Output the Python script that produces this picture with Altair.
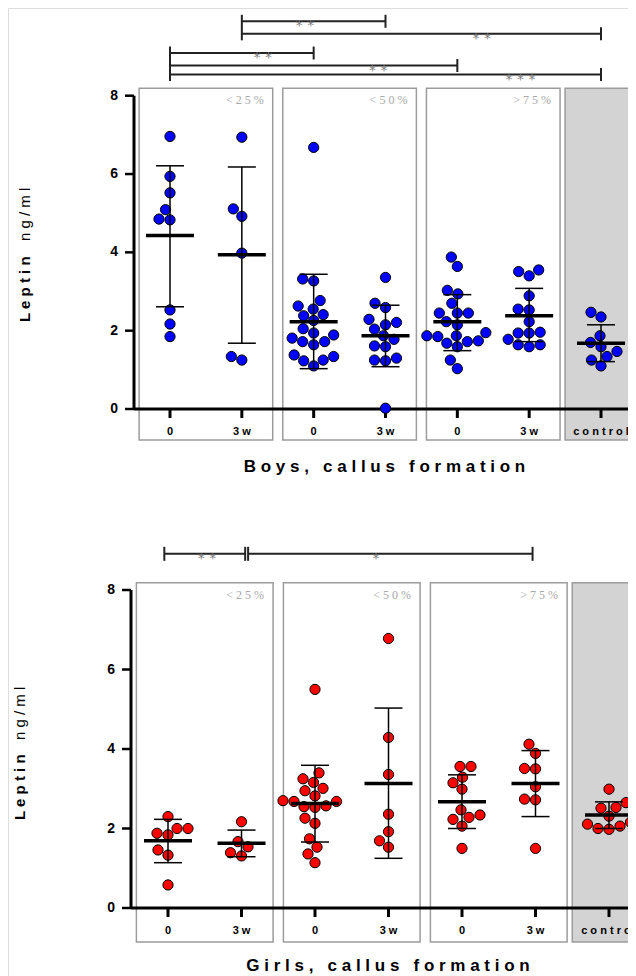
import altair as alt
import pandas as pd
import numpy as np

# ---------------- data ----------------
CATEGORY_LABELS = ["0", "3w", "0", "3w", "0", "3w", "control"]
BAND_LABELS = ["<25%", "<50%", ">75%"]
Y_TICKS = [0, 2, 4, 6, 8]

boys_lt25_0 = [6.96, 5.94, 5.52, 5.09, 4.83, 4.85, 2.53, 2.17, 1.85]
boys_lt25_3w = [6.94, 5.11, 4.92, 3.98, 1.34, 1.25]
boys_lt50_0 = [6.68, 3.32, 3.27, 2.77, 2.63, 2.55, 2.41, 2.38, 2.26, 2.05, 1.94,
               1.89, 1.81, 1.72, 1.72, 1.64, 1.38, 1.34, 1.25, 1.23, 1.10]
boys_lt50_3w = [3.36, 2.70, 2.59, 2.29, 2.21, 2.15, 2.04, 1.87, 1.78, 1.61, 1.59,
                1.30, 1.25, 1.23, 0.02]
boys_gt75_0 = [3.88, 3.64, 3.03, 2.94, 2.70, 2.45, 2.45, 2.45, 2.23, 2.15, 1.95,
               1.87, 1.87, 1.85, 1.74, 1.72, 1.68, 1.59, 1.25, 1.03]
boys_gt75_3w = [3.55, 3.51, 3.40, 2.89, 2.55, 2.53, 2.23, 1.96, 1.94, 1.94, 1.78,
                1.64, 1.64, 1.59]
boys_control = [2.47, 2.35, 1.87, 1.70, 1.59, 1.47, 1.34, 1.25, 1.10]
boys_mean = [4.43, 3.94, 2.23, 1.87, 2.23, 2.38, 1.68]
boys_sd_low = [2.61, 1.68, 1.03, 1.08, 1.49, 1.72, 1.21]
boys_sd_high = [6.21, 6.18, 3.44, 2.65, 2.92, 3.08, 2.15]

girls_lt25_0 = [2.30, 2.00, 2.00, 1.88, 1.84, 1.46, 1.33, 0.58]
girls_lt25_3w = [2.17, 1.67, 1.54, 1.39, 1.31]
girls_lt50_0 = [5.50, 3.40, 3.25, 3.16, 3.01, 2.95, 2.82, 2.70, 2.68, 2.68, 2.57,
                2.55, 2.53, 2.26, 2.13, 1.74, 1.53, 1.36, 1.14]
girls_lt50_3w = [6.78, 4.29, 3.36, 2.36, 1.92, 1.69, 1.53]
girls_gt75_0 = [3.56, 3.56, 3.29, 3.15, 2.99, 2.47, 2.34, 2.28, 2.23, 2.06, 1.50]
girls_gt75_3w = [4.12, 3.89, 3.51, 3.50, 3.05, 2.74, 2.72, 1.50]
girls_control = [2.99, 2.65, 2.53, 2.51, 2.31, 2.16, 2.11, 2.06, 2.00, 1.98]
girls_mean = [1.69, 1.63, 2.63, 3.13, 2.67, 3.13, 2.34]
girls_sd_low = [1.14, 1.29, 1.66, 1.25, 2.00, 2.30, 2.00]
girls_sd_high = [2.23, 1.96, 3.59, 5.03, 3.35, 3.96, 2.67]

# significance brackets (category index from / to, stacking level, stars, star x)
boys_sig_from = [2, 2, 1, 1, 1]
boys_sig_to = [4, 7, 3, 5, 7]
boys_sig_level = [9.90, 9.58, 9.09, 8.77, 8.54]
boys_sig_stars = ["**", "**", "**", "**", "***"]
boys_sig_star_x = [2.88, 5.34, 2.29, 3.90, 5.88]

girls_sig_from = [0.95, 2.09]
girls_sig_to = [2.05, 5.96]
girls_sig_level = [8.91, 8.91]
girls_sig_stars = ["**", "*"]
girls_sig_star_x = [1.53, 3.83]

BOYS = [boys_lt25_0, boys_lt25_3w, boys_lt50_0, boys_lt50_3w, boys_gt75_0, boys_gt75_3w, boys_control]
GIRLS = [girls_lt25_0, girls_lt25_3w, girls_lt50_0, girls_lt50_3w, girls_gt75_0, girls_gt75_3w, girls_control]

FONT = "Liberation Sans"


def swarm(vals, pyu, pxu, d=11.0):
    """simple beeswarm: horizontal offsets (in category units) avoiding overlap"""
    order = sorted(range(len(vals)), key=lambda i: vals[i])
    cands = sorted(np.arange(-40, 40.5, 0.5), key=lambda c: (abs(c), c))
    placed, off = [], [0.0] * len(vals)
    for i in order:
        y = vals[i] * pyu
        for c in cands:
            if all((c - px) ** 2 + (y - py) ** 2 >= d * d for px, py in placed):
                break
        placed.append((c, y))
        off[i] = c / pxu
    return off


def letter_space(s):
    return " ".join(list(s))


def stars_text(s):
    return "\u00a0".join(list(s))


def spaced_title(s):
    return " \u00a0 ".join(" ".join(list(w)) for w in s.split(" "))


def text_at(t, x, y, **kw):
    return alt.Chart(pd.DataFrame({"t": [t]})).mark_text(**kw).encode(
        x=alt.value(x), y=alt.value(y), text="t:N")


def panel_layers(groups, means, lo, hi, color, xr, yr, axis_px, right_px, box_top, box_bot,
                 sfrom, sto, slevel, sstars, sx, tick_half, cat_labels,
                 title, title_xy, ytitle):
    pxu = (xr[1] - xr[0]) / 6.0
    pyu = (yr[0] - yr[1]) / 8.0
    xs = alt.Scale(domain=[1, 7], range=list(xr), nice=False, zero=False)
    ys = alt.Scale(domain=[0, 8], range=list(yr), nice=False, zero=False)
    ax = 1 + (axis_px - xr[0]) / pxu
    xright = 1 + (right_px - xr[0]) / pxu

    def X(f):
        return alt.X(f, type="quantitative", scale=xs, axis=None)

    def Y(f):
        return alt.Y(f, type="quantitative", scale=ys, axis=None)

    boxes = []
    for k in range(3):
        boxes.append({"x": 2 * k + 1 - 0.43, "x2": 2 * k + 2 + 0.43, "y": box_bot, "y2": box_top,
                      "fill": "white", "lab": letter_space(BAND_LABELS[k])})
    boxes.append({"x": 6.5, "x2": xright, "y": box_bot, "y2": box_top, "fill": "#d3d3d3", "lab": ""})
    box_df = pd.DataFrame(boxes)

    pts = []
    for g, vals in enumerate(groups):
        offs = swarm(vals, pyu, pxu)
        for v, o in zip(vals, offs):
            pts.append({"x": g + 1 + o, "v": v})
    pts = pd.DataFrame(pts)

    pos = np.arange(1, 8)
    mhalf, chalf = 24.0 / pxu, 14.0 / pxu
    stats = pd.DataFrame({"x": pos, "mean": means, "lo": lo, "hi": hi,
                          "mx0": pos - mhalf, "mx1": pos + mhalf})
    caps = pd.DataFrame({"cx0": np.concatenate([pos, pos]) - chalf,
                         "cx1": np.concatenate([pos, pos]) + chalf, "v": lo + hi})

    th = tick_half / pyu
    sig = pd.DataFrame({"x": sfrom, "x2": sto, "y": slevel,
                        "lab": [stars_text(s) for s in sstars], "lx": sx})
    ends = pd.DataFrame({"x": sfrom + sto,
                         "y0": [l - th for l in slevel + slevel],
                         "y1": [l + th for l in slevel + slevel]})

    axis_df = pd.DataFrame({"ax0": [ax], "ax1": [xright], "z": [0.0], "top": [8.0]})
    yt = pd.DataFrame({"v": Y_TICKS, "t": [str(v) for v in Y_TICKS],
                       "x0": [ax] * len(Y_TICKS), "x1": [ax - 9.0 / pxu] * len(Y_TICKS)})
    xt = pd.DataFrame({"x": pos, "t": cat_labels, "z": [0.0] * 7, "b": [-9.0 / pyu] * 7})

    layers = [
        alt.Chart(box_df).mark_rect(stroke="#9c9c9c", strokeWidth=1.5, opacity=1,
                                    clip=True).encode(
            x=X("x"), x2="x2", y=Y("y"), y2="y2", fill=alt.Fill("fill:N", scale=None)),
        alt.Chart(box_df[box_df["lab"] != ""]).mark_text(
            align="right", baseline="top", dx=-9, dy=7, font="Liberation Serif",
            fontSize=12, color="#a8a8a8").encode(x=X("x2"), y=Y("y2"), text="lab:N"),
        # axes
        alt.Chart(axis_df).mark_rule(color="black", strokeWidth=3, clip=True).encode(
            x=X("ax0"), x2="ax1", y=Y("z")),
        alt.Chart(axis_df).mark_rule(color="black", strokeWidth=3).encode(
            x=X("ax0"), y=Y("z"), y2="top"),
        alt.Chart(yt).mark_rule(color="black", strokeWidth=2.5).encode(
            x=X("x0"), x2="x1", y=Y("v")),
        alt.Chart(yt).mark_text(align="right", baseline="middle", dx=-16, font=FONT,
                                fontSize=14, fontWeight="bold", color="black").encode(
            x=X("x0"), y=Y("v"), text="t:N"),
        alt.Chart(xt).mark_rule(color="black", strokeWidth=3).encode(
            x=X("x"), y=Y("z"), y2="b"),
        alt.Chart(xt).mark_text(align="center", baseline="top", dy=17, font=FONT,
                                fontSize=11, fontWeight="bold", color="black",
                                clip=True).encode(
            x=X("x"), y=Y("z"), text="t:N"),
        # data
        alt.Chart(pts).mark_circle(color=color, stroke="black", strokeWidth=1, size=105,
                                   opacity=1).encode(x=X("x"), y=Y("v")),
        alt.Chart(stats).mark_rule(color="black", strokeWidth=1.5).encode(
            x=X("x"), y=Y("lo"), y2="hi"),
        alt.Chart(caps).mark_rule(color="black", strokeWidth=1.5).encode(
            x=X("cx0"), x2="cx1", y=Y("v")),
        alt.Chart(stats).mark_rule(color="black", strokeWidth=3.5).encode(
            x=X("mx0"), x2="mx1", y=Y("mean")),
        # significance
        alt.Chart(sig).mark_rule(color="#222222", strokeWidth=2).encode(
            x=X("x"), x2="x2", y=Y("y")),
        alt.Chart(ends).mark_rule(color="#222222", strokeWidth=2).encode(
            x=X("x"), y=Y("y0"), y2="y1"),
        alt.Chart(sig).mark_text(color="#7f7f7f", fontSize=14, font="DejaVu Sans",
                                 baseline="alphabetic", dy=9).encode(
            x=X("lx"), y=Y("y"), text="lab:N"),
        # titles
        text_at("L e p t i n", ytitle[0], ytitle[1], angle=270, align="left",
                baseline="middle", fontSize=15, fontWeight="bold", font=FONT, color="black"),
        text_at("n g / m l", ytitle[0], ytitle[2], angle=270, align="left",
                baseline="middle", fontSize=15, fontWeight="normal", font=FONT, color="black"),
        text_at(title, title_xy[0], title_xy[1], align="center", baseline="middle",
                fontSize=17, fontWeight="bold", font=FONT, color="black"),
    ]
    return layers


cat_labels = [letter_space(l) for l in CATEGORY_LABELS]

# pixel frame of each panel inside the 620 x 968 drawing (page coords minus the 8px margin)
top_layers = panel_layers(
    BOYS, boys_mean, boys_sd_low, boys_sd_high, "#0000ff",
    xr=(162, 593), yr=(401, 87.7), axis_px=126, right_px=640,
    box_top=8.19, box_bot=-0.79,
    sfrom=boys_sig_from, sto=boys_sig_to, slevel=boys_sig_level,
    sstars=boys_sig_stars, sx=boys_sig_star_x, tick_half=6.5, cat_labels=cat_labels,
    title=spaced_title("Boys, callus formation"), title_xy=(376.5, 458.5),
    ytitle=(17, 314, 233))

bottom_layers = panel_layers(
    GIRLS, girls_mean, girls_sd_low, girls_sd_high, "#ff0000",
    xr=(160, 601), yr=(900, 582), axis_px=123, right_px=640,
    box_top=8.18, box_bot=-0.855,
    sfrom=girls_sig_from, sto=girls_sig_to, slevel=girls_sig_level,
    sstars=girls_sig_stars, sx=girls_sig_star_x, tick_half=7, cat_labels=cat_labels,
    title=spaced_title("Girls, callus formation"), title_xy=(380, 958),
    ytitle=(12, 812, 732))

chart = alt.layer(*(top_layers + bottom_layers)).resolve_scale(
    x="independent", y="independent").properties(
    width=620, height=968, padding=0, background="white",
    autosize=alt.AutoSizeParams(type="none")).configure_view(stroke=None).configure(
    font=FONT)

chart.save("out.html", embed_options={"renderer": "svg", "actions": False})
